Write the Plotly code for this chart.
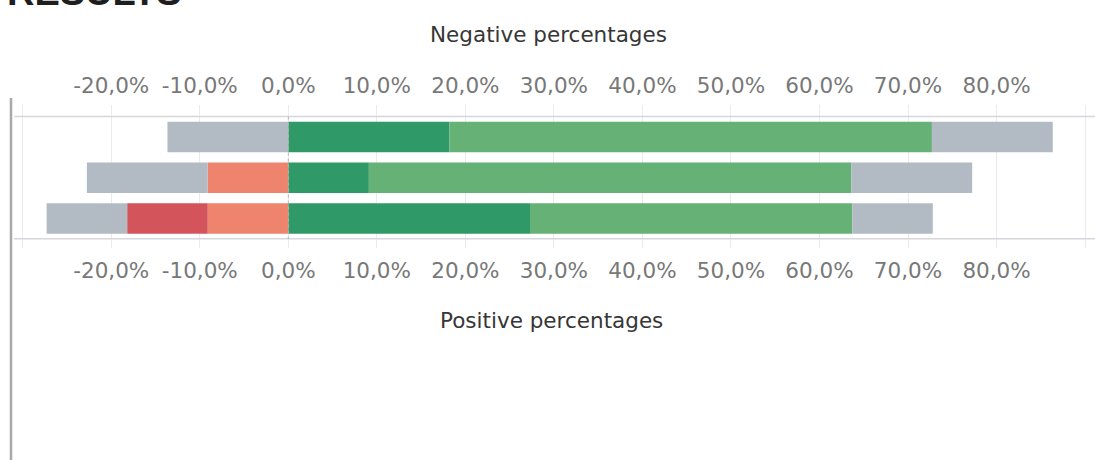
import plotly.graph_objects as go

# Survey rows (top to bottom) and response shares in percent
rows = [0, 1, 2]
strongly_positive = [18.2, 9.1, 27.3]
positive = [54.5, 54.5, 36.4]
neutral = [27.3, 27.3, 18.2]
negative = [0.0, 9.1, 9.1]
strongly_negative = [0.0, 0.0, 9.1]

tick_values = [-30, -20, -10, 0, 10, 20, 30, 40, 50, 60, 70, 80, 90]
tick_labels = ["", "-20,0%", "-10,0%", "0,0%", "10,0%", "20,0%", "30,0%",
               "40,0%", "50,0%", "60,0%", "70,0%", "80,0%", ""]

C_DARK_GREEN = "#2f9a67"
C_LIGHT_GREEN = "#66b175"
C_GREY = "#b2bbc3"
C_SALMON = "#ee836e"
C_RED = "#d4545c"

W, H = 1095, 460
L, R, T, B = 11, 0, 105, 212
PLOT_H = H - T - B
PLOT_W = W - L - R


def py(p):
    """Pixel row -> paper y."""
    return (H - B - p) / PLOT_H


def px(p):
    """Pixel column -> paper x."""
    return (p - L) / PLOT_W


half_neutral = [v / 2 for v in neutral]

fig = go.Figure()
common = dict(y=rows, orientation="h", width=0.75, marker_line_width=0,
              hoverinfo="skip", showlegend=False)
# right side: strongly positive, positive, half of neutral
fig.add_trace(go.Bar(x=strongly_positive, marker_color=C_DARK_GREEN, **common))
fig.add_trace(go.Bar(x=positive, marker_color=C_LIGHT_GREEN, **common))
fig.add_trace(go.Bar(x=half_neutral, marker_color=C_GREY, **common))
# left side: negative, strongly negative, other half of neutral
fig.add_trace(go.Bar(x=[-v for v in negative], marker_color=C_SALMON, **common))
fig.add_trace(go.Bar(x=[-v for v in strongly_negative], marker_color=C_RED, **common))
fig.add_trace(go.Bar(x=[-v for v in half_neutral], marker_color=C_GREY, **common))
# invisible trace to activate the top axis
fig.add_trace(go.Scatter(x=[0], y=[1], xaxis="x2", mode="markers",
                         marker=dict(opacity=0), hoverinfo="skip", showlegend=False))

x_range = [(L - 288.3) / 8.853, (W - 288.3) / 8.853]
tick_font = dict(family="DejaVu Sans", size=21.5, color="#787878")
axis_common = dict(range=x_range, tickvals=tick_values, ticktext=tick_labels,
                   showgrid=True, gridcolor="#e9ebee", gridwidth=1.2,
                   zeroline=False, showline=False, ticks="",
                   tickfont=tick_font, fixedrange=True)

fig.update_layout(
    width=W, height=H,
    margin=dict(l=L, r=R, t=T, b=B, pad=0),
    paper_bgcolor="white", plot_bgcolor="white",
    barmode="relative", bargap=0.25,
    xaxis=dict(side="bottom", ticklabelstandoff=7, **axis_common),
    xaxis2=dict(side="top", overlaying="x", ticklabelstandoff=7, **axis_common),
    yaxis=dict(range=[2.724, -0.785], showticklabels=False, showgrid=False,
               zeroline=False, showline=False, fixedrange=True),
)

shapes = [
    # row dividers at top and bottom of the bar block
    dict(type="line", xref="paper", yref="y", x0=px(14), x1=1, y0=-0.5, y1=-0.5,
         line=dict(color="#d6d7dc", width=1.5)),
    dict(type="line", xref="paper", yref="y", x0=px(14), x1=1, y0=2.5, y1=2.5,
         line=dict(color="#d6d7dc", width=1.5)),
    # zero reference
    dict(type="line", xref="x", yref="y", x0=0, x1=0, y0=-0.5, y1=2.5,
         line=dict(color="#b4b4b4", width=1, dash="dot"), layer="above"),
    # left frame line
    dict(type="line", xref="paper", yref="paper", x0=0, x1=0, y0=py(98), y1=py(461),
         line=dict(color="#a9a9a9", width=2.5)),
]
fig.update_layout(shapes=shapes)

title_font = dict(family="DejaVu Sans", size=21.5, color="#363636")
fig.add_annotation(text="Negative percentages", xref="paper", yref="paper",
                   x=px(548), y=py(35), xanchor="center", yanchor="middle",
                   showarrow=False, font=title_font)
fig.add_annotation(text="Positive percentages", xref="paper", yref="paper",
                   x=px(551), y=py(320), xanchor="center", yanchor="middle",
                   showarrow=False, font=title_font)
fig.add_annotation(text="<b>RESULTS</b>", xref="paper", yref="paper",
                   x=px(5), y=py(-8), xanchor="left", yanchor="middle",
                   showarrow=False,
                   font=dict(family="Liberation Sans", size=38, color="#1e1e1e"))

fig.write_html("out.html")
